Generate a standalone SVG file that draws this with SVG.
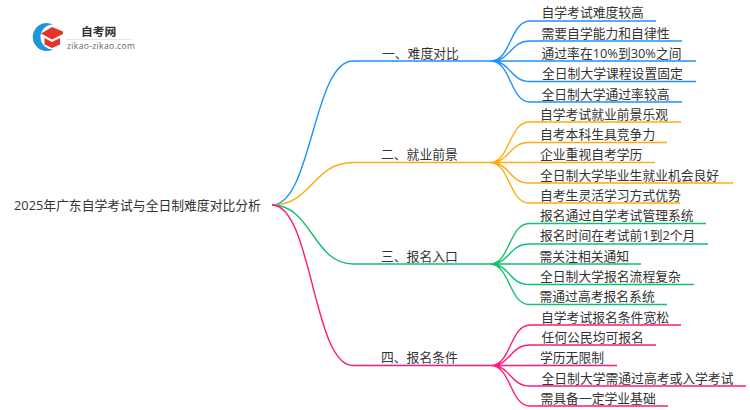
<svg xmlns="http://www.w3.org/2000/svg" width="750" height="410" viewBox="0 0 750 410">
<style>
text{font-family:"Open Sans","Noto Sans CJK SC",sans-serif;font-size:12.800px;fill:#333}
.c{fill:none;stroke-width:1.4}
.b{stroke:#1e90ff}.o{stroke:#ffaa11}.g{stroke:#10c070}.p{stroke:#ff1a7a}
</style>
<rect width="750" height="410" fill="#fff"/>
<g id="connectors">
<g class="c b"><path d="M272 205C312 205 313 61 353 61H491"/>
<path d="M491 61C511 61 510 21 530 21H656M491 61C511 61 510 41 530 41H682M491 61H696M491 61C511 61 510 81.500 530 81.500H696M491 61C511 61 510 102 530 102H682"/></g>
<g class="c o"><path d="M272 205C312 205 313 162.500 353 162.500H490"/>
<path d="M490 162.500C510 162.500 509 122 529 122H681M490 162.500C510 162.500 509 142.500 529 142.500H667M490 162.500H655M490 162.500C510 162.500 509 183 529 183H733M490 162.500C510 162.500 509 203 529 203H680"/></g>
<g class="c g"><path d="M272 205C312 205 313 264 353 264H490"/>
<path d="M490 264C510 264 509 223.500 529 223.500H706M490 264C510 264 509 244 529 244H708M490 264H641M490 264C510 264 509 284.500 529 284.500H694M490 264C510 264 509 304.500 529 304.500H667"/></g>
<g class="c p"><path d="M272 205C312 205 313 365.500 353 365.500H491"/>
<path d="M491 365.500C511 365.500 510 325 530 325H681M491 365.500C511 365.500 510 345 530 345H656M491 365.500H617M491 365.500C511 365.500 510 386 530 386H746M491 365.500C511 365.500 510 406 530 406H668"/></g>
</g>
<g id="logo">
<path d="M53 24.500A14 14 0 1 0 53 49.500A12.500 12.500 0 0 1 53 24.500Z" fill="#1e96d8"/>
<path d="M41 33.500L52 27L63 31.500V34L52 39.500Z" fill="#e5352b"/>
<path d="M44.500 38L52 42L60 38V44.500L52 48L44.500 44.500Z" fill="#e5352b"/>
<text x="81" y="35.500" style="font-size:11.800px;font-weight:700">自考网</text>
<path d="M66 39.500H131" stroke="#e4e4e4" fill="none"/>
<text x="67" y="48.500" style="font-size:8.500px;fill:#666;letter-spacing:.35px">zikao-zikao.com</text>
</g>
<g id="root"><text x="14" y="209.500">2025年广东自学考试与全日制难度对比分析</text></g>
<g id="n1"><text x="382" y="58">一、难度对比</text></g>
<g id="n1a"><text x="541.500" y="17">自学考试难度较高</text></g>
<g id="n1b"><text x="541.500" y="37.500">需要自学能力和自律性</text></g>
<g id="n1c"><text x="541.500" y="57.500">通过率在10%到30%之间</text></g>
<g id="n1d"><text x="542" y="78">全日制大学课程设置固定</text></g>
<g id="n1e"><text x="541.500" y="98.500">全日制大学通过率较高</text></g>
<g id="n2"><text x="381" y="159">二、就业前景</text></g>
<g id="n2a"><text x="540" y="118.500">自学考试就业前景乐观</text></g>
<g id="n2b"><text x="540" y="138.500">自考本科生具竞争力</text></g>
<g id="n2c"><text x="540" y="159">企业重视自考学历</text></g>
<g id="n2d"><text x="540" y="179.500">全日制大学毕业生就业机会良好</text></g>
<g id="n2e"><text x="540" y="199.500">自考生灵活学习方式优势</text></g>
<g id="n3"><text x="381" y="260.500">三、报名入口</text></g>
<g id="n3a"><text x="540" y="220">报名通过自学考试管理系统</text></g>
<g id="n3b"><text x="540" y="240">报名时间在考试前1到2个月</text></g>
<g id="n3c"><text x="539.500" y="260.500">需关注相关通知</text></g>
<g id="n3d"><text x="540" y="281">全日制大学报名流程复杂</text></g>
<g id="n3e"><text x="539.500" y="301">需通过高考报名系统</text></g>
<g id="n4"><text x="381" y="361.500">四、报名条件</text></g>
<g id="n4a"><text x="541" y="321.500">自学考试报名条件宽松</text></g>
<g id="n4b"><text x="541.500" y="341.500">任何公民均可报名</text></g>
<g id="n4c"><text x="540" y="361.500">学历无限制</text></g>
<g id="n4d"><text x="541.500" y="382.500">全日制大学需通过高考或入学考试</text></g>
<g id="n4e"><text x="540.500" y="402.500">需具备一定学业基础</text></g>
</svg>
